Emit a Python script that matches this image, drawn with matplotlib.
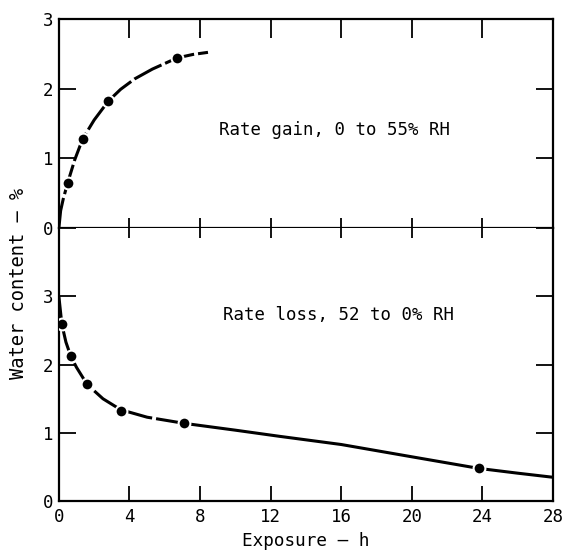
import matplotlib
matplotlib.use("Agg")
import matplotlib.pyplot as plt

plt.rcParams['font.family'] = ['DejaVu Sans Mono']

# gain, 0 to 55% RH
gain_x = [0.5, 1.35, 2.8, 6.7]
gain_y = [0.65, 1.28, 1.82, 2.44]
gain_curve_x = [0, 0.1, 0.25, 0.5, 0.9, 1.35, 2.0, 2.8, 3.5, 4.3, 5.3, 6.7, 7.6, 8.45]
gain_curve_y = [0, 0.25, 0.42, 0.65, 0.98, 1.28, 1.55, 1.82, 1.99, 2.14, 2.28, 2.44, 2.49, 2.52]

# loss, 52 to 0% RH
loss_x = [0.17, 0.68, 1.6, 3.5, 7.1, 23.8]
loss_y = [2.59, 2.12, 1.71, 1.32, 1.14, 0.48]
loss_curve_x = [0, 0.17, 0.4, 0.68, 1.0, 1.6, 2.5, 3.5, 5.0, 7.1, 10, 12.5, 16, 20, 23.8, 26, 28]
loss_curve_y = [3.0, 2.59, 2.33, 2.12, 1.96, 1.71, 1.50, 1.34, 1.23, 1.14, 1.04, 0.95, 0.83, 0.65, 0.48, 0.41, 0.35]

xticks = [0, 4, 8, 12, 16, 20, 24, 28]
inner_xticks = [4, 8, 12, 16, 20, 24]

fig = plt.figure(figsize=(5.66, 5.55), dpi=100)
ax1 = fig.add_axes([0.104, 0.589, 0.873, 0.377])
ax2 = fig.add_axes([0.104, 0.097, 0.873, 0.492])

ax1.plot(gain_curve_x, gain_curve_y, color='black', lw=2.2, dashes=(10, 1.3), zorder=2)
ax1.plot(gain_x, gain_y, 'o', color='black', ms=8.5, mec='white', mew=1.5, zorder=3)
ax1.text(9.05, 1.41, 'Rate gain, 0 to 55% RH', fontsize=12.5, va='center')
ax1.set_xlim(0, 28)
ax1.set_ylim(0, 3)
ax1.set_yticks([0, 1, 2, 3])
ax1.set_xticks(inner_xticks)
ax1.tick_params(axis='y', direction='in', length=12, width=1.3, left=True, right=True,
                labelsize=12.5, pad=4)
ax1.tick_params(axis='x', direction='in', length=14, width=1.3, top=True, bottom=True,
                labelbottom=False)
for t in ax1.xaxis.get_major_ticks():
    t.tick1line.set_markersize(7)

ax2.plot(loss_curve_x[:10], loss_curve_y[:10], color='black', lw=2.2, dashes=(10, 1.3), zorder=2)
ax2.plot(loss_curve_x[9:], loss_curve_y[9:], color='black', lw=2.2, zorder=2)
ax2.plot(loss_x, loss_y, 'o', color='black', ms=8.5, mec='white', mew=1.5, zorder=3)
ax2.text(9.3, 2.72, 'Rate loss, 52 to 0% RH', fontsize=12.5, va='center')
ax2.set_xlim(0, 28)
ax2.set_ylim(0, 4)
ax2.set_yticks([0, 1, 2, 3, 4])
ax2.set_yticklabels(['0', '1', '2', '3', ''])
ax2.set_xticks(xticks)
ax2.tick_params(axis='y', direction='in', length=12, width=1.3, left=True, right=True,
                labelsize=12.5, pad=4)
ax2.tick_params(axis='x', direction='in', length=11, width=1.3, top=True, bottom=True,
                labelsize=12.5, pad=5)
for t in ax2.xaxis.get_major_ticks():
    t.tick2line.set_markersize(7)
ax2.spines['top'].set_visible(False)

for ax in (ax1, ax2):
    for s in ax.spines.values():
        s.set_linewidth(1.6)

ax2.set_xlabel('Exposure \u2014 h', fontsize=12.7, labelpad=4)
fig.text(0.032, 0.49, 'Water content \u2013 %', rotation=90, fontsize=13.5,
         ha='center', va='center')

fig.savefig('out.png', dpi=100)
